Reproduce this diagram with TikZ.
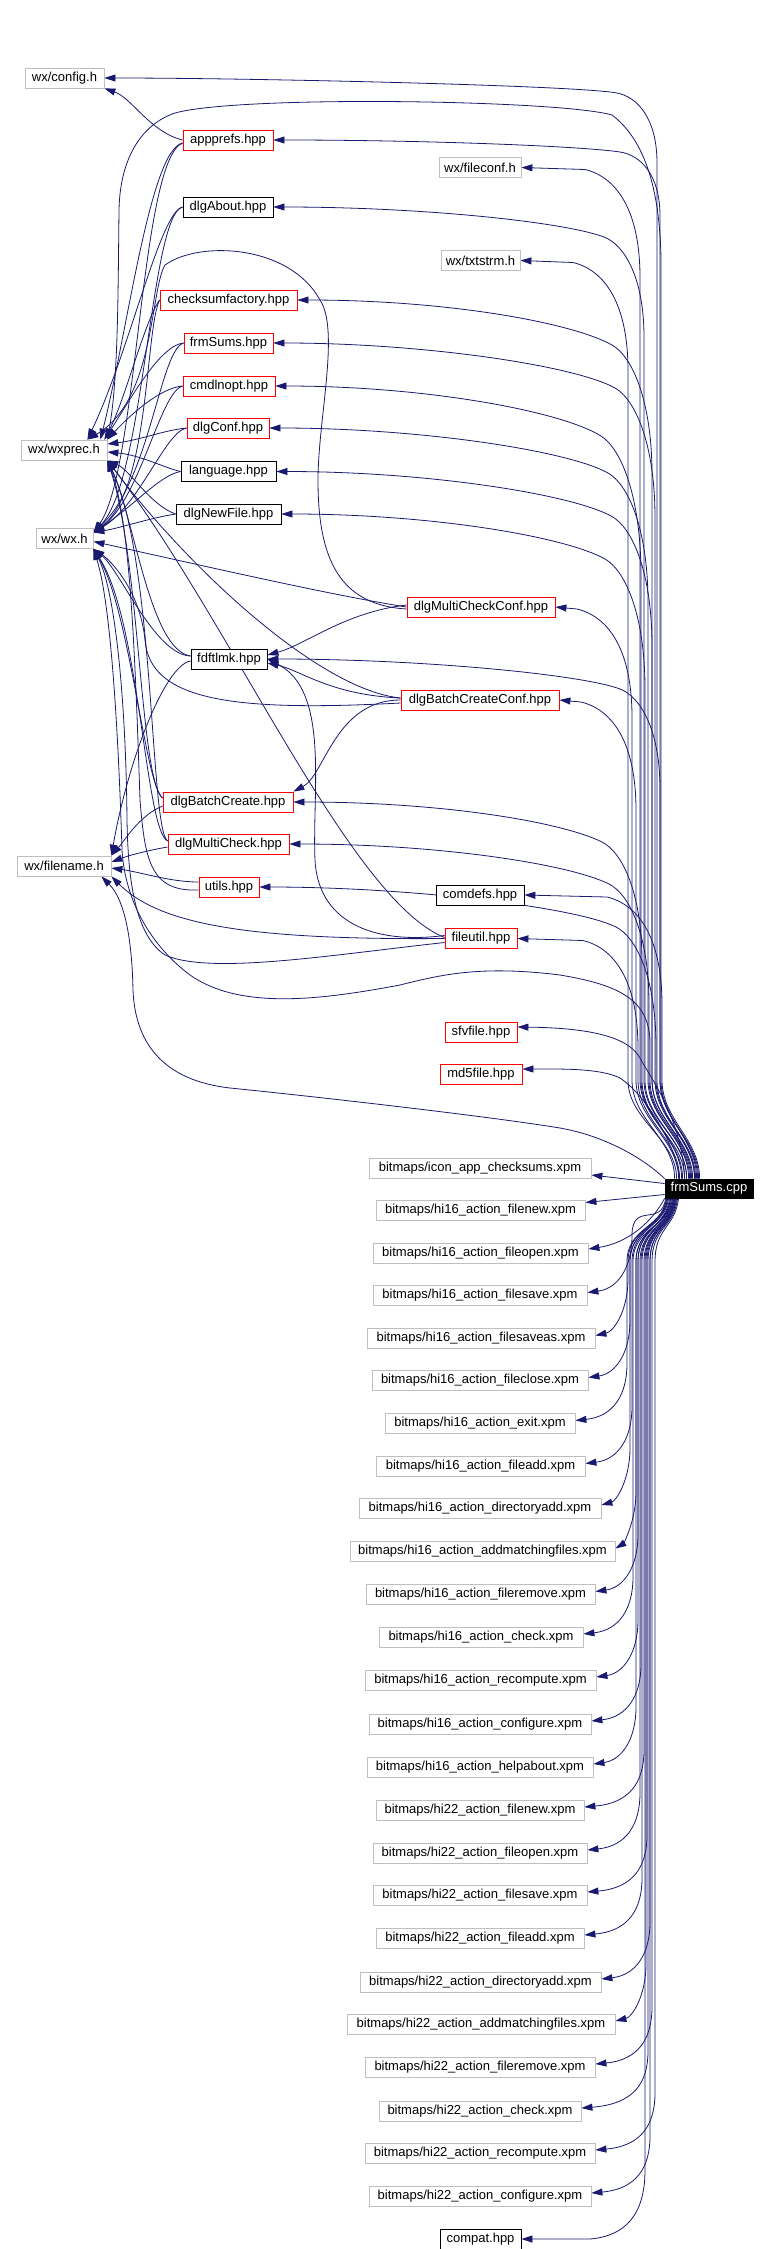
\documentclass[tikz,border=0pt]{standalone}
\usepackage{fontspec}
\setmainfont{Liberation Sans}
\usetikzlibrary{arrows.meta}
\pgfdeclarelayer{bg}
\pgfsetlayers{bg,main}
\definecolor{edgec}{RGB}{25,25,112}
\definecolor{grayb}{RGB}{191,191,191}
\tikzset{
 nbox/.style={draw, fill=white, inner sep=0pt, minimum height=20pt, font=\fontsize{13}{15}\selectfont, line width=0.8pt},
 gbox/.style={nbox, draw=grayb},
 rbox/.style={nbox, draw=red},
 kbox/.style={nbox, draw=black},
 edge/.style={draw=edgec, line width=0.8pt, -{Triangle[length=11pt,width=7pt]}},
}
\newcommand\nd[6]{\node[#1,minimum width=#2pt] (#3) at (#4,#5) {#6};}
% far top edge: target, ty, xv, xshift on F, target east x, drop
\newcommand\topF[6]{\draw[edge] ([xshift=#4pt]F.north west) .. controls +(0,-40) and (#3,1120) .. (#3,1080) -- (#3,#2+3*#6+40) .. controls (#3,#2+2*#6+10) and (#3-20,#2+1.25*#6) .. (#3-40,#2+#6) .. controls (#3-80,#2+#6/2) and (#5+150,#2) .. (#1.east);}
% near top edge
\newcommand\topN[4]{\draw[edge] ([xshift=#4pt]F.north west) .. controls +(0,-40) and (#3,1120) .. (#3,1080) -- (#3,#2+110) .. controls (#3,#2+45) and (#3-22,#2+10) .. (#3-55,#2+2) -- (#1.east);}
% bottom edge
\newcommand\botE[4]{\pgfmathsetmacro\ya{min(1262,#2-60)}\draw[edge] ([xshift=#4pt]F.south west) .. controls +(-4,30) and (#3,\ya-35) .. (#3,\ya) -- (#3,#2-60) .. controls (#3,#2-28) and (#3-14,#2-7) .. ([yshift=3pt]#1.east);}
\begin{document}
\begin{tikzpicture}[x=1pt,y=-1pt]
\useasboundingbox (0,0) rectangle (769,2249);
% left / middle nodes
\nd{gbox}{79}{C}{64.5}{78}{wx/config.h}
\nd{rbox}{90}{A}{228}{140}{appprefs.hpp}
\nd{gbox}{82}{FC}{480}{167.5}{wx/fileconf.h}
\nd{kbox}{90}{AB}{228}{207}{dlgAbout.hpp}
\nd{gbox}{79}{TS}{480.5}{260.5}{wx/txtstrm.h}
\nd{rbox}{137}{CF}{228.5}{300}{checksumfactory.hpp}
\nd{rbox}{89}{FH}{228.5}{343}{frmSums.hpp}
\nd{rbox}{92}{CL}{229}{386}{cmdlnopt.hpp}
\nd{rbox}{82}{DC}{228}{428}{dlgConf.hpp}
\nd{gbox}{86}{P}{64}{450}{wx/wxprec.h}
\nd{kbox}{95}{LG}{228.5}{471.5}{language.hpp}
\nd{kbox}{105}{NF}{228.5}{514}{dlgNewFile.hpp}
\nd{gbox}{57}{W}{64.5}{538.5}{wx/wx.h}
\nd{rbox}{148}{MCC}{481}{607}{dlgMultiCheckConf.hpp}
\nd{kbox}{76}{FD}{229}{659}{fdftlmk.hpp}
\nd{rbox}{158}{BCC}{480}{700}{dlgBatchCreateConf.hpp}
\nd{rbox}{130}{BC}{228}{802}{dlgBatchCreate.hpp}
\nd{rbox}{121}{MC}{228.5}{844}{dlgMultiCheck.hpp}
\nd{gbox}{94}{N}{64}{866}{wx/filename.h}
\nd{rbox}{60}{U}{229}{887}{utils.hpp}
\nd{kbox}{88}{CD}{480}{895}{comdefs.hpp}
\nd{rbox}{72}{FU}{481}{938.5}{fileutil.hpp}
\nd{rbox}{72}{SF}{481}{1032}{sfvfile.hpp}
\nd{rbox}{82}{MD}{481}{1074}{md5file.hpp}
\node[kbox, fill=black, text=white, minimum width=88pt, minimum height=19pt] (F) at (709,1188.5) {frmSums.cpp};
% bitmaps
\nd{gbox}{222}{B0}{480}{1168}{bitmaps/icon\_app\_checksums.xpm}
\nd{gbox}{209}{B1}{480.5}{1210.5}{bitmaps/hi16\_action\_filenew.xpm}
\nd{gbox}{215}{B2}{480.5}{1253}{bitmaps/hi16\_action\_fileopen.xpm}
\nd{gbox}{214}{B3}{480}{1295.5}{bitmaps/hi16\_action\_filesave.xpm}
\nd{gbox}{228}{B4}{481}{1338.5}{bitmaps/hi16\_action\_filesaveas.xpm}
\nd{gbox}{216}{B5}{480}{1380.5}{bitmaps/hi16\_action\_fileclose.xpm}
\nd{gbox}{190}{B6}{480}{1423.5}{bitmaps/hi16\_action\_exit.xpm}
\nd{gbox}{209}{B7}{480.5}{1466.5}{bitmaps/hi16\_action\_fileadd.xpm}
\nd{gbox}{242}{B8}{480}{1508}{bitmaps/hi16\_action\_directoryadd.xpm}
\nd{gbox}{265}{B9}{482.5}{1551.5}{bitmaps/hi16\_action\_addmatchingfiles.xpm}
\nd{gbox}{229}{B10}{480.5}{1594.5}{bitmaps/hi16\_action\_fileremove.xpm}
\nd{gbox}{204}{B11}{481}{1637}{bitmaps/hi16\_action\_check.xpm}
\nd{gbox}{231}{B12}{480.5}{1680}{bitmaps/hi16\_action\_recompute.xpm}
\nd{gbox}{222}{B13}{480}{1724}{bitmaps/hi16\_action\_configure.xpm}
\nd{gbox}{226}{B14}{480}{1767}{bitmaps/hi16\_action\_helpabout.xpm}
\nd{gbox}{208}{B15}{480}{1810}{bitmaps/hi22\_action\_filenew.xpm}
\nd{gbox}{214}{B16}{480}{1853}{bitmaps/hi22\_action\_fileopen.xpm}
\nd{gbox}{214}{B17}{480}{1895}{bitmaps/hi22\_action\_filesave.xpm}
\nd{gbox}{208}{B18}{480}{1938}{bitmaps/hi22\_action\_fileadd.xpm}
\nd{gbox}{241}{B19}{480.5}{1982}{bitmaps/hi22\_action\_directoryadd.xpm}
\nd{gbox}{268}{B20}{481}{2024}{bitmaps/hi22\_action\_addmatchingfiles.xpm}
\nd{gbox}{230}{B21}{480}{2067}{bitmaps/hi22\_action\_fileremove.xpm}
\nd{gbox}{202}{B22}{480}{2111}{bitmaps/hi22\_action\_check.xpm}
\nd{gbox}{230}{B23}{480}{2153}{bitmaps/hi22\_action\_recompute.xpm}
\nd{gbox}{222}{B24}{480}{2196}{bitmaps/hi22\_action\_configure.xpm}
\nd{kbox}{81}{CP}{480.5}{2239}{compat.hpp}

\begin{pgfonlayer}{bg}
% ---- frmSums.cpp to upper targets
\topF{C}{78}{657}{30}{104}{15}
\topF{A}{140}{660}{33}{273}{12}
\topN{FC}{167.5}{640}{20}
\topF{AB}{207}{644}{22}{273}{30}
\topN{TS}{260.5}{628}{12}
\topF{CF}{300}{652}{28}{297}{45}
\topF{FH}{343}{655}{30}{273}{45}
\topF{CL}{386}{641}{18}{275}{50}
\topF{DC}{428}{648}{25}{269}{45}
\topF{LG}{471.5}{652}{27}{276}{45}
\topF{NF}{514}{645}{22}{281}{45}
\topN{MCC}{607}{632}{10}
\topF{FD}{659}{660}{34}{267}{30}
\topN{BCC}{700}{636}{14}
\topF{BC}{802}{642}{17}{293}{40}
\topF{MC}{844}{649}{24}{289}{40}
\topF{U}{887}{656}{31}{259}{40}
\topN{CD}{895}{662}{35}
\topN{FU}{938.5}{638}{15}
\draw[edge] ([xshift=20pt]F.north west) .. controls (682,1120) and (652,1080) .. (640,1058) .. controls (630,1040) and (600,1028) .. ([yshift=5pt]SF.east);
\draw[edge] ([xshift=15pt]F.north west) .. controls (675,1140) and (642,1092) .. (620,1078) .. controls (600,1068) and (560,1069) .. ([yshift=5pt]MD.east);
% frmSums.cpp to wx headers
\draw[edge] ([xshift=32pt]F.north west) .. controls +(0,-40) and (661,1120) .. (661,1080) -- (661,260) .. controls (660,190) and (645,140) .. (612,115) .. controls (560,100) and (240,95) .. (175,113) .. controls (140,125) and (120,160) .. (119,210) .. controls (118,300) and (118,380) .. (P.north east);
\draw[edge] ([xshift=26pt]F.north west) .. controls +(0,-40) and (650,1120) .. (650,1080) -- (650,1040) .. controls (648,1000) and (620,985) .. (560,975) .. controls (480,965) and (440,975) .. (400,985) .. controls (320,1000) and (240,1010) .. (190,975) .. controls (150,945) and (125,900) .. (122,850) .. controls (118,720) and (110,600) .. (W.south east);
\draw[edge] (F.north west) .. controls (640,1155) and (600,1135) .. (560,1128) .. controls (480,1115) and (300,1095) .. (230,1088) .. controls (160,1080) and (135,1040) .. (133,990) .. controls (132,940) and (125,900) .. ([xshift=-10pt]N.south east);
% ---- frmSums.cpp to bitmaps
\draw[edge] ([yshift=5pt]F.west) -- ([yshift=-7pt]B0.east);
\draw[edge] ([yshift=-6pt]F.west) -- ([yshift=8pt]B1.east);
\draw[edge] (F.south west) .. controls (652,1222) and (628,1243) .. ([yshift=4pt]B2.east);
\botE{B3}{1295.5}{632}{1}
\botE{B4}{1338.5}{628}{2}
\botE{B5}{1380.5}{630}{3}
\botE{B6}{1423.5}{627}{2}
\botE{B7}{1466.5}{632}{4}
\botE{B8}{1508}{630}{3}
\botE{B9}{1551.5}{636}{6}
\botE{B10}{1594.5}{638}{5}
\botE{B11}{1637}{633}{8}
\botE{B12}{1680}{638}{6}
\botE{B13}{1724}{641}{9}
\botE{B14}{1767}{636}{7}
\botE{B15}{1810}{644}{10}
\botE{B16}{1853}{640}{8}
\botE{B17}{1895}{647}{11}
\botE{B18}{1938}{642}{9}
\botE{B19}{1982}{650}{12}
\botE{B20}{2024}{646}{10}
\botE{B21}{2067}{652}{13}
\botE{B22}{2111}{648}{11}
\botE{B23}{2153}{655}{14}
\botE{B24}{2196}{650}{12}
\draw[edge] ([xshift=10pt]F.south west) .. controls +(-4,30) and (645,1227) .. (645,1262) -- (645,2170) .. controls (645,2215) and (625,2236) .. (590,2239) -- (CP.east);
% ---- headers to wx headers
\draw[edge] (A.west) .. controls (150,132) and (132,98) .. (C.south east);
\draw[edge] ([yshift=-3pt]A.west) .. controls (150,150) and (128,330) .. ([xshift=-7pt]P.north east);
\draw[edge] ([yshift=-3pt]A.west) .. controls (140,160) and (138,470) .. ([yshift=6pt]W.east);
\draw[edge] (AB.west) .. controls (160,212) and (130,350) .. ([xshift=-20pt]P.north east);
\draw[edge] (AB.west) .. controls (150,215) and (145,480) .. ([yshift=6pt]W.east);
\draw[edge] (CF.west) .. controls (145,320) and (125,400) .. ([xshift=-3pt]P.north east);
\draw[edge] (CF.west) .. controls (145,330) and (150,490) .. ([yshift=6pt]W.east);
\draw[edge] (FH.west) .. controls (160,345) and (130,400) .. ([xshift=-3pt]P.north east);
\draw[edge] (FH.west) .. controls (160,350) and (150,480) .. ([yshift=6pt]W.east);
\draw[edge] (CL.west) .. controls (160,388) and (130,415) .. (P.north east);
\draw[edge] (CL.west) .. controls (160,392) and (140,500) .. ([yshift=6pt]W.east);
\draw[edge] (DC.west) .. controls (165,430) and (140,440) .. ([yshift=6pt]P.east);
\draw[edge] (DC.west) .. controls (165,432) and (140,505) .. ([yshift=6pt]W.east);
\draw[edge] (LG.west) .. controls (165,468) and (140,455) .. ([yshift=-2pt]P.east);
\draw[edge] (LG.west) .. controls (160,475) and (135,505) .. ([yshift=6pt]W.east);
\draw[edge] (NF.west) .. controls (150,505) and (130,470) .. (P.south east);
\draw[edge] (NF.west) .. controls (150,518) and (120,528) .. ([yshift=6pt]W.east);
\draw[edge] ([yshift=3pt]FD.west) .. controls (150,650) and (135,520) .. (P.south east);
\draw[edge] ([yshift=3pt]FD.west) .. controls (155,655) and (120,570) .. (W.south east);
\draw[edge] ([yshift=-2pt]FD.west) .. controls (165,665) and (128,760) .. (N.north east);
\draw[edge] ([yshift=2pt]MCC.west) .. controls (345,612) and (305,645) .. ([yshift=4pt]FD.east);
\draw[edge] (MCC.west) .. controls (330,595) and (200,565) .. ([yshift=-3pt]W.east);
\draw[edge] ([yshift=-2pt]MCC.west) .. controls (340,605) and (318,560) .. (318,480) .. controls (318,420) and (340,330) .. (320,300) .. controls (290,245) and (200,240) .. (165,265) .. controls (150,290) and (155,400) .. ([xshift=-20pt]P.north east);
\draw[edge] ([yshift=2pt]BCC.west) .. controls (330,695) and (300,670) .. ([yshift=-4pt]FD.east);
\draw[edge] (BCC.west) .. controls (335,700) and (325,775) .. (BC.north east);
\draw[edge] ([yshift=2pt]BCC.west) .. controls (320,690) and (190,570) .. (P.south east);
\draw[edge] ([yshift=-3pt]BCC.west) .. controls (230,712) and (150,700) .. (145,640) .. controls (140,590) and (110,560) .. (W.south east);
\draw[edge] ([yshift=4pt]BC.west) .. controls (140,780) and (140,560) .. (P.south east);
\draw[edge] ([yshift=4pt]BC.west) .. controls (145,785) and (130,610) .. (W.south east);
\draw[edge] ([yshift=-4pt]BC.west) .. controls (140,815) and (125,840) .. (N.north east);
\draw[edge] ([yshift=3pt]MC.west) .. controls (150,830) and (155,560) .. (P.south east);
\draw[edge] ([yshift=3pt]MC.west) .. controls (145,830) and (140,620) .. (W.south east);
\draw[edge] ([yshift=-3pt]MC.west) .. controls (150,850) and (130,855) .. ([yshift=4pt]N.east);
\draw[edge] ([yshift=5pt]U.west) .. controls (170,882) and (140,872) .. ([yshift=-2pt]N.east);
\draw[edge] ([yshift=-3pt]U.west) .. controls (150,892) and (145,860) .. (140,800) .. controls (135,650) and (130,520) .. (P.south east);
\draw[edge] ([yshift=3pt]FU.west) .. controls (370,945) and (318,920) .. (315,860) .. controls (312,790) and (330,690) .. (FD.east);
\draw[edge] ([yshift=1pt]FU.west) .. controls (350,900) and (230,620) .. (P.south east);
\draw[edge] (FU.west) .. controls (250,940) and (160,925) .. (N.south east);
\draw[edge] ([yshift=-4pt]FU.west) .. controls (330,955) and (210,975) .. (165,955) .. controls (135,935) and (128,880) .. (127,820) .. controls (126,700) and (115,590) .. (W.south east);
\end{pgfonlayer}
\end{tikzpicture}
\end{document}
